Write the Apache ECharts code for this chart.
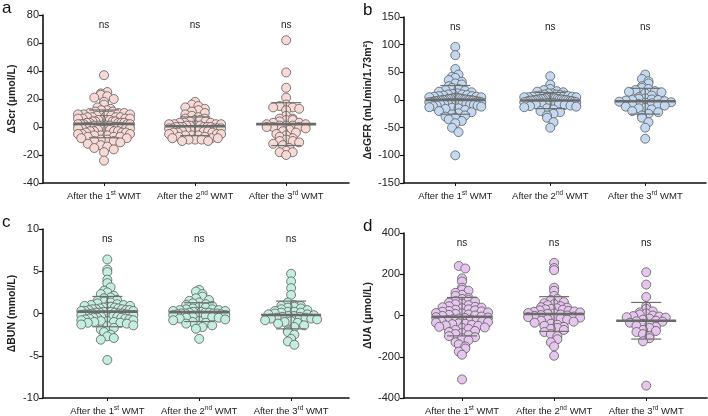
<!DOCTYPE html>
<html>
<head>
<meta charset="utf-8">
<title>renal function after WMT</title>
<script src="https://cdn.jsdelivr.net/npm/echarts@6/dist/echarts.min.js"></script>
</head>
<body style="margin:0;background:#fff;">
<div id="main" style="width:708px;height:416px;"></div>
<script>
// category labels: "After the 1st WMT" etc.
var ordinals = ['1', '2', '3'];
var suffixes = ['st', 'nd', 'rd'];

// a: delta Scr (umol/L)
var scr1 = [37, 25, 24, 23, 22, 21, 20, 18, 16, 14, 13, 12, 12, 11, 11, 10, 10, 10, 9, 9, 9, 8, 8, 8, 8, 7, 7, 7, 7, 6, 6, 6, 6, 5, 5, 5, 5, 5, 4, 4, 4, 4, 3, 3, 3, 3, 3, 2, 2, 2, 2, 2, 1, 1, 1, 1, 1, 0, 0, 0, 0, 0, -1, -1, -1, -1, -2, -2, -2, -2, -3, -3, -3, -3, -4, -4, -4, -5, -5, -5, -6, -6, -6, -7, -7, -7, -8, -8, -9, -9, -10, -10, -11, -12, -13, -14, -15, -16, -18, -24];
var scr2 = [18, 16, 15, 14, 13, 12, 11, 10, 9, 8, 7, 6, 6, 5, 5, 4, 4, 3, 3, 3, 2, 2, 2, 2, 1, 1, 1, 1, 1, 0, 0, 0, 0, 0, 0, -1, -1, -1, -1, -1, -2, -2, -2, -2, -3, -3, -3, -4, -4, -4, -5, -5, -5, -6, -6, -6, -7, -7, -8, -8, -8, -9, -9, -9, -10, -10];
var scr3 = [62, 39, 28, 21, 16, 15, 14, 14, 13, 12, 8, 6, 6, 5, 5, 4, 3, 3, 2, 2, 1, 1, 1, 0, 0, 0, -1, -2, -3, -4, -5, -6, -7, -8, -9, -10, -10, -11, -12, -13, -15, -17, -18, -18, -20];

// b: delta eGFR (mL/min/1.73m2)
var egfr1 = [96, 81, 56, 46, 42, 40, 36, 33, 30, 28, 25, 22, 20, 18, 17, 15, 14, 12, 11, 10, 10, 9, 8, 7, 7, 6, 6, 5, 5, 4, 4, 3, 3, 3, 2, 2, 2, 1, 1, 1, 0, 0, 0, 0, -1, -1, -1, -1, -2, -2, -2, -3, -3, -3, -4, -4, -4, -5, -5, -5, -6, -6, -7, -7, -8, -8, -9, -10, -10, -11, -12, -13, -14, -15, -16, -18, -20, -22, -24, -26, -28, -30, -32, -35, -38, -42, -50, -58, -100];
var egfr2 = [43, 28, 20, 18, 16, 15, 14, 12, 12, 10, 10, 9, 8, 8, 7, 7, 6, 6, 5, 5, 5, 4, 4, 4, 3, 3, 3, 2, 2, 2, 1, 1, 1, 0, 0, 0, 0, -1, -1, -1, -2, -2, -2, -3, -3, -4, -4, -5, -5, -6, -7, -8, -9, -10, -11, -12, -13, -15, -17, -20, -22, -25, -28, -32, -40, -50];
var egfr3 = [46, 38, 34, 30, 25, 22, 20, 18, 16, 15, 14, 12, 8, 5, 3, 2, 1, 0, 0, -1, -2, -3, -4, -5, -6, -7, -8, -9, -10, -12, -14, -15, -17, -20, -22, -25, -28, -32, -40, -50, -70];

// c: delta BUN (mmol/L)
var bun1 = [6.4, 5.2, 4.9, 4.0, 3.6, 3.1, 2.7, 2.5, 2.3, 2.1, 1.9, 1.8, 1.6, 1.5, 1.4, 1.3, 1.2, 1.1, 1.0, 1.0, 0.9, 0.9, 0.8, 0.8, 0.7, 0.7, 0.6, 0.6, 0.5, 0.5, 0.5, 0.4, 0.4, 0.4, 0.3, 0.3, 0.3, 0.2, 0.2, 0.2, 0.1, 0.1, 0.1, 0.0, 0.0, 0.0, -0.1, -0.1, -0.1, -0.2, -0.2, -0.2, -0.3, -0.3, -0.3, -0.4, -0.4, -0.5, -0.5, -0.5, -0.6, -0.6, -0.7, -0.7, -0.8, -0.8, -0.9, -0.9, -1.0, -1.0, -1.1, -1.1, -1.2, -1.3, -1.4, -1.5, -1.7, -1.9, -2.2, -2.5, -2.7, -2.9, -3.1, -5.5];
var bun2 = [2.8, 2.6, 2.3, 2.0, 1.8, 1.6, 1.5, 1.3, 1.2, 1.1, 1.0, 0.9, 0.8, 0.7, 0.6, 0.5, 0.5, 0.4, 0.4, 0.3, 0.3, 0.2, 0.2, 0.2, 0.1, 0.1, 0.1, 0.0, 0.0, 0.0, 0.0, -0.1, -0.1, -0.2, -0.2, -0.3, -0.3, -0.4, -0.4, -0.5, -0.5, -0.6, -0.7, -0.8, -0.9, -1.0, -1.1, -1.2, -1.4, -1.6, -1.8, -3.0];
var bun3 = [4.7, 3.8, 3.0, 2.2, 1.3, 1.0, 0.9, 0.9, 0.8, 0.7, 0.6, 0.5, 0.4, 0.3, 0.2, 0.2, 0.1, 0.1, 0.0, -0.1, -0.1, -0.2, -0.3, -0.3, -0.4, -0.4, -0.5, -0.5, -0.6, -0.6, -0.7, -0.8, -0.9, -1.0, -1.1, -1.2, -1.4, -1.6, -2.0, -2.2, -2.5, -3.0, -3.3, -3.7];

// d: delta UA (umol/L)
var ua1 = [240, 228, 180, 165, 135, 125, 120, 110, 100, 95, 85, 80, 75, 70, 68, 62, 58, 55, 50, 45, 42, 40, 38, 35, 30, 28, 25, 22, 20, 18, 15, 12, 10, 8, 5, 3, 0, -2, -5, -8, -10, -12, -15, -18, -20, -22, -25, -28, -30, -32, -35, -38, -40, -42, -45, -48, -50, -55, -58, -60, -65, -70, -75, -80, -85, -90, -95, -100, -105, -110, -120, -130, -140, -150, -160, -175, -190, -310];
var ua2 = [255, 230, 220, 135, 120, 95, 80, 75, 65, 60, 55, 50, 45, 40, 38, 35, 32, 30, 28, 25, 22, 20, 18, 15, 12, 10, 8, 5, 2, 0, -2, -5, -8, -10, -12, -15, -18, -20, -25, -30, -35, -40, -45, -50, -55, -60, -65, -70, -80, -90, -100, -115, -130, -150, -195];
var ua3 = [210, 150, 90, 45, 32, 20, 15, 10, 5, 0, -3, -5, -8, -10, -15, -20, -25, -28, -30, -35, -40, -45, -50, -55, -60, -70, -75, -80, -90, -100, -110, -125, -340];

var panels = [
  { letter: 'a', name: 'ΔScr (μmol/L)', groups: [scr1, scr2, scr3], color: '#f9d9d6',
    grid: { left: 43, top: 15, width: 306, height: 168 }, xr: [0.33, 3.69], yr: [-40, 80, 20] },
  { letter: 'b', name: 'ΔeGFR (mL/min/1.73m²)', groups: [egfr1, egfr2, egfr3], color: '#c3d9f2',
    grid: { left: 404, top: 17, width: 302, height: 166 }, xr: [0.46, 3.64], yr: [-150, 150, 50] },
  { letter: 'c', name: 'ΔBUN (mmol/L)', groups: [bun1, bun2, bun3], color: '#c4eedf',
    grid: { left: 43, top: 229, width: 306, height: 171 }, xr: [0.30, 3.63], yr: [-10, 10, 5] },
  { letter: 'd', name: 'ΔUA (μmol/L)', groups: [ua1, ua2, ua3], color: '#e6c6ee',
    grid: { left: 404, top: 233, width: 303, height: 168 }, xr: [0.37, 3.66], yr: [-400, 400, 200] }
];

function meanOf(a) { return a.reduce(function (s, v) { return s + v; }, 0) / a.length; }
function sdOf(a) {
  var m = meanOf(a);
  return Math.sqrt(a.reduce(function (s, v) { return s + (v - m) * (v - m); }, 0) / (a.length - 1));
}

// scatter-dot layout: points binned by pixel height, each bin spread sideways
// centre-out; crowded bins are squeezed so the swarm stays within +/-halfW px
function spread(values, pxPerY, binPx, step, halfW) {
  var bins = {};
  values.forEach(function (v, i) {
    var b = Math.round(v * pxPerY / binPx);
    (bins[b] = bins[b] || []).push(i);
  });
  var out = [];
  Object.keys(bins).forEach(function (b) {
    var list = bins[b];
    var n = list.length;
    var s = n > 1 ? Math.min(step, 2 * halfW / (n - 1)) : 0;
    var start = -(n - 1) / 2 * s;
    // centre-out order so neighbouring values do not line up in a slope
    var slots = [];
    for (var j = 0; j < n; j++) slots.push(start + j * s);
    slots.sort(function (a, c) { return Math.abs(a) - Math.abs(c) || a - c; });
    list.forEach(function (idx, j) { out[idx] = slots[j] * (b % 2 ? -1 : 1); });
  });
  return out;
}

function catLabel(v) {
  var i = Math.round(v) - 1;
  return '{n|After the ' + ordinals[i] + '}{s|' + suffixes[i] + '}{n| WMT}';
}

var grids = [], xAxes = [], yAxes = [], series = [], graphics = [];

panels.forEach(function (p, k) {
  grids.push(p.grid);
  xAxes.push({
    type: 'value', gridIndex: k, min: p.xr[0], max: p.xr[1],
    splitLine: { show: false },
    axisLine: { show: true, onZero: false, lineStyle: { color: '#111', width: 1.6 } },
    axisTick: { show: true, length: 3, customValues: [1, 2, 3], lineStyle: { color: '#111' } },
    axisLabel: {
      customValues: [1, 2, 3], margin: 7, formatter: catLabel,
      rich: {
        n: { fontSize: 9.5, color: '#222', fontFamily: 'Liberation Sans', lineHeight: 12 },
        s: { fontSize: 6.5, color: '#222', fontFamily: 'Liberation Sans', verticalAlign: 'top', lineHeight: 8 }
      }
    }
  });
  yAxes.push({
    type: 'value', gridIndex: k, min: p.yr[0], max: p.yr[1], interval: p.yr[2],
    name: p.name, nameLocation: 'middle', nameGap: 25,
    nameTextStyle: { fontSize: 10.5, fontWeight: 'bold', color: '#222', fontFamily: 'Liberation Sans' },
    splitLine: { show: false },
    axisLine: { show: true, onZero: false, lineStyle: { color: '#111', width: 1.6 } },
    axisTick: { show: true, length: 4, lineStyle: { color: '#111', width: 1.2 } },
    axisLabel: { fontSize: 11, color: '#222', margin: 4, fontFamily: 'Liberation Sans' }
  });

  var pxPerY = p.grid.height / (p.yr[1] - p.yr[0]);
  var pxPerX = p.grid.width / (p.xr[1] - p.xr[0]);
  var stats = [];
  p.groups.forEach(function (vals, g) {
    var offs = spread(vals, pxPerY, 5, 6.5, 26);
    series.push({
      type: 'scatter', xAxisIndex: k, yAxisIndex: k, symbolSize: 9, z: 2,
      itemStyle: { color: p.color, borderColor: '#5a5a5a', borderWidth: 0.8, opacity: 1 },
      data: vals.map(function (v, i) { return [g + 1 + offs[i] / pxPerX, v]; })
    });
    stats.push([g + 1, meanOf(vals), sdOf(vals)]);
  });

  series.push({
    type: 'custom', xAxisIndex: k, yAxisIndex: k, z: 5, clip: false,
    data: stats,
    renderItem: function (params, api) {
      var g = api.value(0), m = api.value(1), s = api.value(2);
      var c = api.coord([g, m]), hi = api.coord([g, m + s]), lo = api.coord([g, m - s]);
      var thin = { stroke: '#6e6e6e', lineWidth: 1.2 };
      return {
        type: 'group', children: [
          { type: 'line', shape: { x1: c[0], y1: lo[1], x2: c[0], y2: hi[1] }, style: thin },
          { type: 'line', shape: { x1: c[0] - 15, y1: hi[1], x2: c[0] + 15, y2: hi[1] }, style: thin },
          { type: 'line', shape: { x1: c[0] - 15, y1: lo[1], x2: c[0] + 15, y2: lo[1] }, style: thin },
          { type: 'line', shape: { x1: c[0] - 30, y1: c[1], x2: c[0] + 30, y2: c[1] }, style: { stroke: '#6a6a6a', lineWidth: 2.6 } },
          { type: 'text', x: c[0], y: params.coordSys.y + 10,
            style: { text: 'ns', fill: '#222', fontSize: 10, fontFamily: 'Liberation Sans', align: 'center', verticalAlign: 'middle' } }
        ]
      };
    }
  });

  graphics.push({
    type: 'text', left: p.grid.left - 41, top: p.grid.top - 15,
    style: { text: p.letter, fontSize: 17, fill: '#111', fontFamily: 'Liberation Sans' }
  });
});

var myChart = echarts.init(document.getElementById('main'));
myChart.setOption({
  animation: false,
  grid: grids,
  xAxis: xAxes,
  yAxis: yAxes,
  series: series,
  graphic: graphics
});
</script>
</body>
</html>
